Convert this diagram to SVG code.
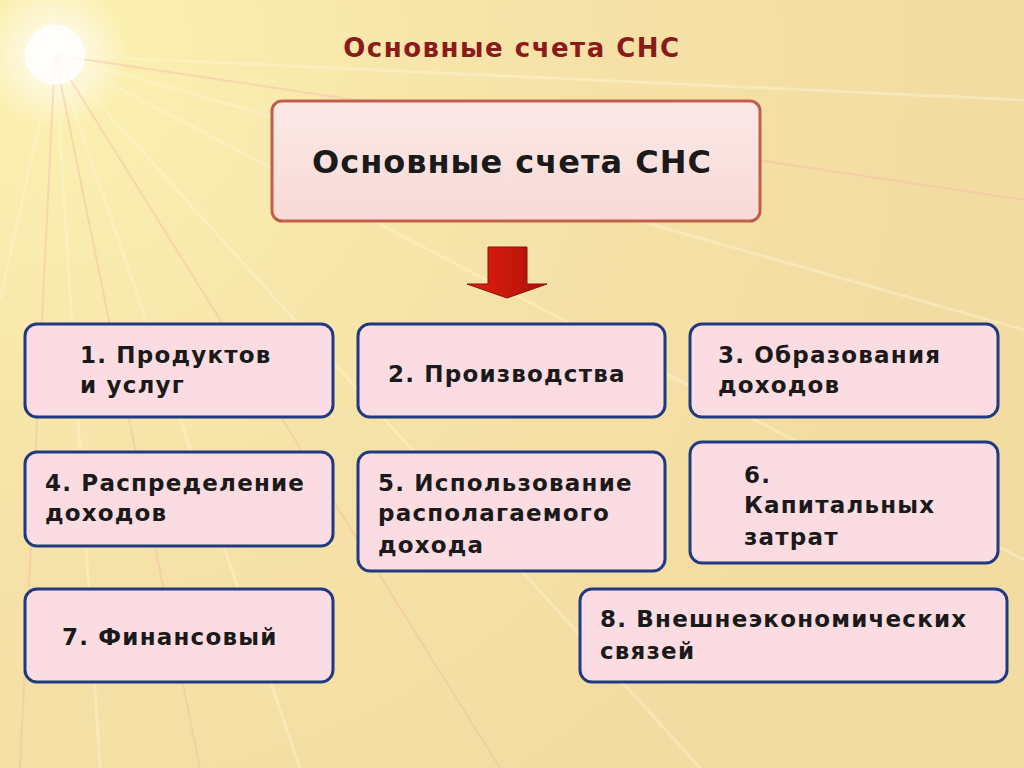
<svg xmlns="http://www.w3.org/2000/svg" width="1024" height="768" viewBox="0 0 1024 768">
<defs>
<radialGradient id="sun" cx="55" cy="55" r="900" gradientUnits="userSpaceOnUse">
<stop offset="0" stop-color="#FFFFFF"/>
<stop offset="0.08" stop-color="#FBEFB0"/>
<stop offset="0.5" stop-color="#F6E3A8"/>
<stop offset="1" stop-color="#F3DCA2"/>
</radialGradient>
<linearGradient id="mainfill" x1="0" y1="0" x2="0" y2="1">
<stop offset="0" stop-color="#FBE9E7"/>
<stop offset="1" stop-color="#F8DAD6"/>
</linearGradient>
<linearGradient id="arr" x1="0" y1="0" x2="1" y2="0">
<stop offset="0" stop-color="#E02010"/>
<stop offset="1" stop-color="#B01008"/>
</linearGradient>
<style>
.box{fill:#FCDCE3;stroke:#1F3A80;stroke-width:3}
.t{font-family:"DejaVu Sans",Verdana,sans-serif;font-weight:bold;font-size:23px;letter-spacing:1.2px;fill:#1a1a1a}
.ray{stroke:#FFF6D0;stroke-width:3;opacity:0.45}
.ray2{stroke:#F2B8A8;stroke-width:2;opacity:0.4}
</style>
</defs>
<rect width="1024" height="768" fill="url(#sun)"/>
<g>
<line class="ray" x1="55" y1="55" x2="1024" y2="330"/>
<line class="ray" x1="55" y1="55" x2="1024" y2="560"/>
<line class="ray" x1="55" y1="55" x2="700" y2="768"/>
<line class="ray" x1="55" y1="55" x2="300" y2="768"/>
<line class="ray" x1="55" y1="55" x2="100" y2="768"/>
<line class="ray2" x1="55" y1="55" x2="20" y2="768"/>
<line class="ray2" x1="55" y1="55" x2="200" y2="768"/>
<line class="ray2" x1="55" y1="55" x2="1024" y2="200"/>
<line class="ray" x1="55" y1="55" x2="1024" y2="100"/>
<line class="ray2" x1="55" y1="55" x2="500" y2="768"/>
<line class="ray" x1="55" y1="55" x2="0" y2="300"/>
<circle cx="55" cy="55" r="30" fill="#FFFFFF" opacity="0.8"/>
</g>
<text x="512" y="57" text-anchor="middle" font-family="DejaVu Sans,Verdana,sans-serif" font-weight="bold" font-size="26" letter-spacing="1.5" fill="#8B1A1A">Основные счета СНС</text>
<g id="main">
<rect x="272" y="101" width="488" height="120" rx="10" fill="url(#mainfill)" stroke="#C0604A" stroke-width="3"/>
<text x="512" y="173" text-anchor="middle" font-family="DejaVu Sans,Verdana,sans-serif" font-weight="bold" font-size="32" letter-spacing="1" fill="#1a1a1a">Основные счета СНС</text>
</g>
<g id="connectors">
<polygon points="488,247 527,247 527,284 547,284 507,298 467,284 488,284" fill="url(#arr)" stroke="#8B1010" stroke-width="1"/>
</g>
<g id="n1"><rect class="box" x="25" y="324" width="308" height="93" rx="12"/><text class="t" x="80" y="363">1. Продуктов</text><text class="t" x="80" y="393">и услуг</text></g>
<g id="n2"><rect class="box" x="358" y="324" width="307" height="93" rx="12"/><text class="t" x="388" y="382">2. Производства</text></g>
<g id="n3"><rect class="box" x="690" y="324" width="308" height="93" rx="12"/><text class="t" x="718" y="363">3. Образования</text><text class="t" x="718" y="393">доходов</text></g>
<g id="n4"><rect class="box" x="25" y="452" width="308" height="94" rx="12"/><text class="t" x="45" y="491">4. Распределение</text><text class="t" x="45" y="521">доходов</text></g>
<g id="n5"><rect class="box" x="358" y="452" width="307" height="119" rx="12"/><text class="t" x="378" y="491">5. Использование</text><text class="t" x="378" y="521">располагаемого</text><text class="t" x="378" y="553">дохода</text></g>
<g id="n6"><rect class="box" x="690" y="442" width="308" height="121" rx="12"/><text class="t" x="744" y="483">6.</text><text class="t" x="744" y="513">Капитальных</text><text class="t" x="744" y="545">затрат</text></g>
<g id="n7"><rect class="box" x="25" y="589" width="308" height="93" rx="12"/><text class="t" x="62" y="645">7. Финансовый</text></g>
<g id="n8"><rect class="box" x="580" y="589" width="427" height="93" rx="12"/><text class="t" x="600" y="627">8. Внешнеэкономических</text><text class="t" x="600" y="659">связей</text></g>
</svg>
